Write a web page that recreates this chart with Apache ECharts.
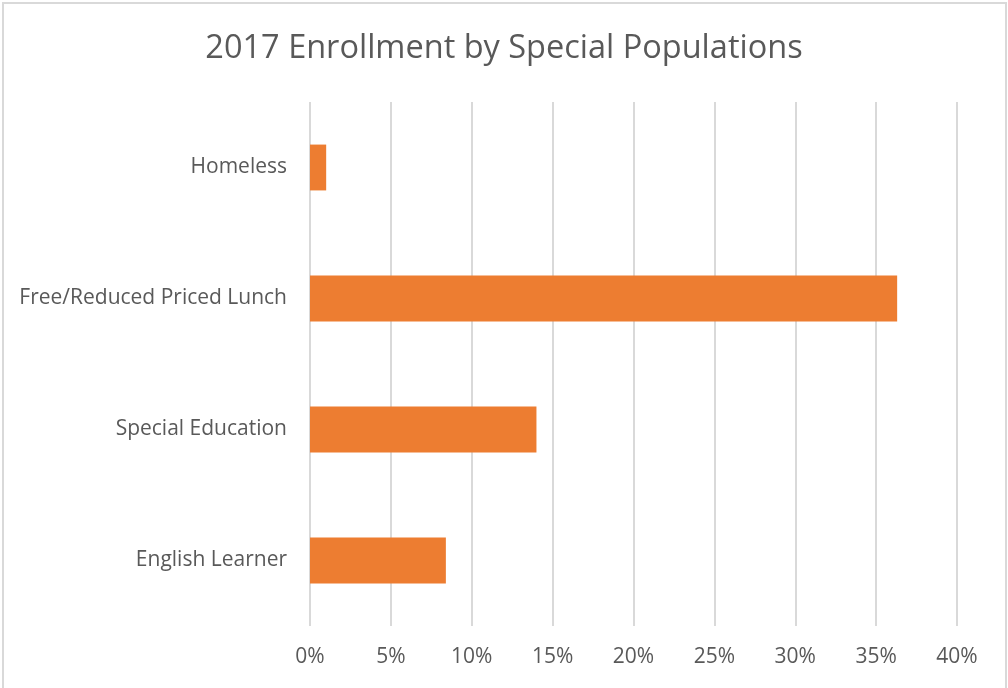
<!DOCTYPE html>
<html>
<head>
<meta charset="utf-8">
<script src="https://cdn.jsdelivr.net/npm/echarts@6/dist/echarts.min.js"></script>
<style>
html,body{margin:0;padding:0;background:#fff;}
#chart{width:1008px;height:688px;}
</style>
</head>
<body>
<div id="chart"></div>
<script>
const categories = ["Homeless", "Free/Reduced Priced Lunch", "Special Education", "English Learner"];
const values = [0.010, 0.363, 0.140, 0.084];
const titleText = "2017 Enrollment by Special Populations";

const chart = echarts.init(document.getElementById('chart'), null, {renderer: 'canvas'});
const font = "'Open Sans', 'Noto Sans', sans-serif";
chart.setOption({
  animation: false,
  backgroundColor: '#ffffff',
  title: {
    text: titleText,
    left: 'center',
    top: 27,
    textStyle: {fontFamily: font, fontSize: 32.5, fontWeight: 'normal', color: '#595959'}
  },
  graphic: [{
    type: 'rect',
    shape: {x: 3, y: 3, width: 1003, height: 700},
    style: {fill: 'none', stroke: '#d9d9d9', lineWidth: 2},
    silent: true
  }],
  grid: {left: 310, right: 51, top: 102, bottom: 62, containLabel: false},
  xAxis: {
    type: 'value',
    min: 0, max: 0.4, interval: 0.05,
    axisLine: {show: false},
    axisTick: {show: false},
    splitLine: {show: true, lineStyle: {color: '#d9d9d9', width: 2}},
    axisLabel: {
      fontFamily: font, fontSize: 21, color: '#595959', margin: 21,
      formatter: v => Math.round(v * 100) + '%'
    }
  },
  yAxis: {
    type: 'category',
    data: categories,
    inverse: true,
    axisLine: {show: false},
    axisTick: {show: false},
    axisLabel: {fontFamily: font, fontSize: 21, color: '#595959', margin: 23}
  },
  series: [{
    type: 'bar',
    data: values,
    barWidth: '35%',
    itemStyle: {color: '#ed7d31'}
  }]
});
</script>
</body>
</html>
